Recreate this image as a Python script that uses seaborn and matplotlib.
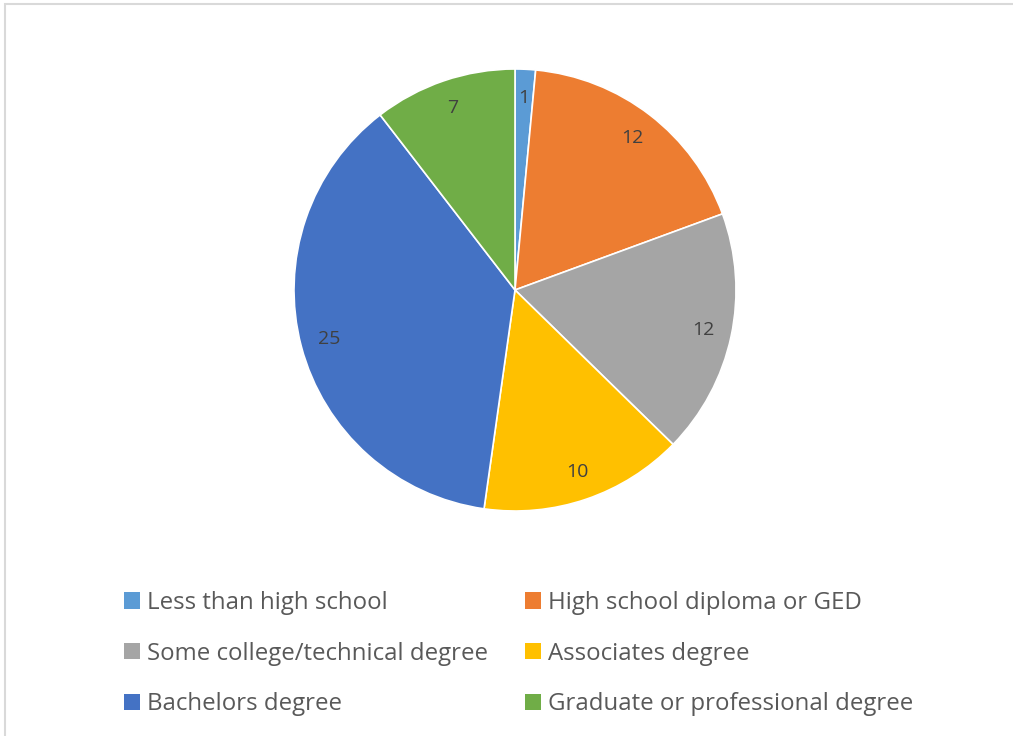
import matplotlib
matplotlib.use("Agg")
import matplotlib.pyplot as plt
import seaborn as sns
from matplotlib.patches import Rectangle

# data
categories = ["Less than high school", "High school diploma or GED",
              "Some college/technical degree", "Associates degree",
              "Bachelors degree", "Graduate or professional degree"]
counts = [1, 12, 12, 10, 25, 7]
colors = ["#5B9BD5", "#ED7D31", "#A5A5A5", "#FFC000", "#4472C4", "#70AD47"]

sns.set_theme(style="white")
plt.rcParams['font.family'] = ['Open Sans', 'DejaVu Sans']

W, H = 1013, 736
fig = plt.figure(figsize=(W / 100, H / 100), dpi=100)
fig.patch.set_facecolor("white")

# chart area border (only top/left visible in reference)
fig.patches.append(Rectangle((5 / W, -0.1), 1.2, 1 - 4 / H + 0.1, transform=fig.transFigure,
                             fill=False, edgecolor="#D9D9D9", linewidth=1.5))

cx, cy, r = 515, 290, 221
ax = fig.add_axes([(cx - r) / W, (H - cy - r) / H, 2 * r / W, 2 * r / H])
total = sum(counts)
wedges, texts, autotexts = ax.pie(
    counts, colors=colors, startangle=90, counterclock=False,
    autopct=lambda p: f"{round(p * total / 100):d}", pctdistance=0.87,
    wedgeprops=dict(edgecolor="white", linewidth=1.2),
    textprops=dict(color="#404040", fontsize=14))
ax.set_xlim(-1, 1)
ax.set_ylim(-1, 1)
ax.set_aspect("equal")
ax.axis("off")

# row-wise legend order (matplotlib fills columns first)
order = [0, 2, 4, 1, 3, 5]
leg = fig.legend([wedges[i] for i in order], [categories[i] for i in order],
                 loc="upper left", bbox_to_anchor=(124 / W, 1 - 591 / H),
                 ncol=2, frameon=False, fontsize=17.3, labelcolor="#595959",
                 handlelength=0.67, handleheight=0.67, handletextpad=0.29,
                 labelspacing=1.11, columnspacing=1.54, borderpad=0, borderaxespad=0)
for h in leg.legend_handles:
    h.set_edgecolor("none")

fig.savefig("out.png", dpi=100)
